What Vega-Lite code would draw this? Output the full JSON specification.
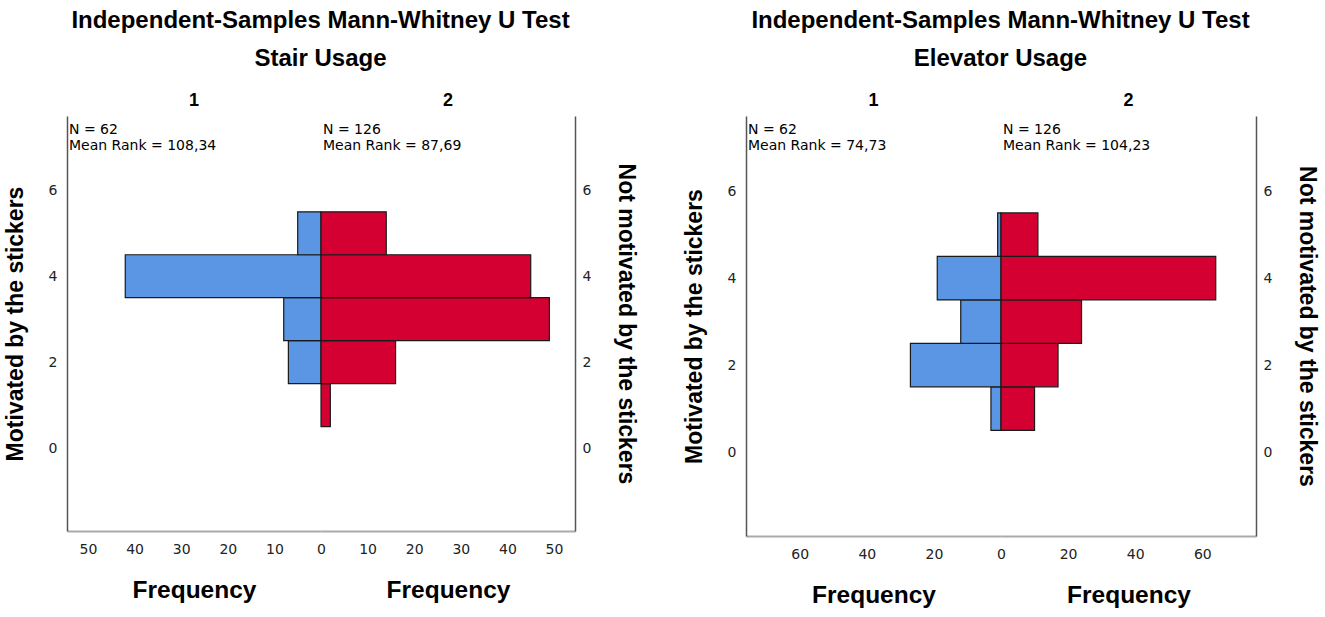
{
  "$schema": "https://vega.github.io/schema/vega-lite/v6.json",
  "padding": {"left": 4, "top": 9, "right": 5, "bottom": 5},
  "background": "white",
  "datasets": {
    "bars": [
      {"test": "Stair Usage", "group": "1", "lo": 1.5, "hi": 2.5, "count": 7},
      {"test": "Stair Usage", "group": "1", "lo": 2.5, "hi": 3.5, "count": 8},
      {"test": "Stair Usage", "group": "1", "lo": 3.5, "hi": 4.5, "count": 42},
      {"test": "Stair Usage", "group": "1", "lo": 4.5, "hi": 5.5, "count": 5},
      {"test": "Stair Usage", "group": "2", "lo": 0.5, "hi": 1.5, "count": 2},
      {"test": "Stair Usage", "group": "2", "lo": 1.5, "hi": 2.5, "count": 16},
      {"test": "Stair Usage", "group": "2", "lo": 2.5, "hi": 3.5, "count": 49},
      {"test": "Stair Usage", "group": "2", "lo": 3.5, "hi": 4.5, "count": 45},
      {"test": "Stair Usage", "group": "2", "lo": 4.5, "hi": 5.5, "count": 14},
      {"test": "Elevator Usage", "group": "1", "lo": 0.5, "hi": 1.5, "count": 3},
      {"test": "Elevator Usage", "group": "1", "lo": 1.5, "hi": 2.5, "count": 27},
      {"test": "Elevator Usage", "group": "1", "lo": 2.5, "hi": 3.5, "count": 12},
      {"test": "Elevator Usage", "group": "1", "lo": 3.5, "hi": 4.5, "count": 19},
      {"test": "Elevator Usage", "group": "1", "lo": 4.5, "hi": 5.5, "count": 1},
      {"test": "Elevator Usage", "group": "2", "lo": 0.5, "hi": 1.5, "count": 10},
      {"test": "Elevator Usage", "group": "2", "lo": 1.5, "hi": 2.5, "count": 17},
      {"test": "Elevator Usage", "group": "2", "lo": 2.5, "hi": 3.5, "count": 24},
      {"test": "Elevator Usage", "group": "2", "lo": 3.5, "hi": 4.5, "count": 64},
      {"test": "Elevator Usage", "group": "2", "lo": 4.5, "hi": 5.5, "count": 11}
    ],
    "notes": [
      {"test": "Stair Usage", "group": "1", "lines": ["N = 62", "Mean Rank = 108,34"]},
      {"test": "Stair Usage", "group": "2", "lines": ["N = 126", "Mean Rank = 87,69"]},
      {"test": "Elevator Usage", "group": "1", "lines": ["N = 62", "Mean Rank = 74,73"]},
      {"test": "Elevator Usage", "group": "2", "lines": ["N = 126", "Mean Rank = 104,23"]}
    ]
  },
  "spacing": 46,
  "hconcat": [
    {
      "title": {"text": ["Independent-Samples Mann-Whitney U Test", "Stair Usage"], "lineHeight": 38, "offset": 21},
      "spacing": 0,
      "bounds": "flush",
      "hconcat": [
        {
          "width": 254,
          "height": 415,
          "title": {"text": "1", "fontSize": 18, "offset": 6},
          "layer": [
            {
              "data": {"name": "bars"},
              "transform": [{"filter": "datum.test === 'Stair Usage' && datum.group === '1'"}],
              "mark": {"type": "rect", "color": "#5a96e3", "stroke": "#1a1a1a", "strokeWidth": 1.2},
              "encoding": {
                "x": {"field": "count", "type": "quantitative",
                  "scale": {"domain": [0, 54.5], "nice": false, "reverse": true},
                  "axis": {"values": [10, 20, 30, 40, 50], "title": "Frequency", "domainColor": "#aaaaaa", "domainWidth": 2}},
                "x2": {"datum": 0},
                "y": {"field": "lo", "type": "quantitative",
                  "scale": {"domain": [-1.93, 7.73], "nice": false, "zero": false},
                  "axis": {"values": [0, 2, 4, 6], "title": "Motivated by the stickers", "orient": "left"}},
                "y2": {"field": "hi"}
              }
            },
            {
              "data": {"name": "notes"},
              "transform": [{"filter": "datum.test === 'Stair Usage' && datum.group === '1'"}],
              "mark": {"type": "text", "align": "left", "baseline": "top", "dx": 2, "dy": 7, "fontSize": 14, "lineHeight": 16, "font": "DejaVu Sans"},
              "encoding": {"x": {"datum": 54.5}, "y": {"datum": 7.73}, "text": {"field": "lines"}}
            }
          ]
        },
        {
          "width": 254,
          "height": 415,
          "title": {"text": "2", "fontSize": 18, "offset": 6},
          "layer": [
            {
              "data": {"name": "bars"},
              "transform": [{"filter": "datum.test === 'Stair Usage' && datum.group === '2'"}],
              "mark": {"type": "rect", "color": "#d50032", "stroke": "#1a1a1a", "strokeWidth": 1.2},
              "encoding": {
                "x": {"field": "count", "type": "quantitative",
                  "scale": {"domain": [0, 54.5], "nice": false},
                  "axis": {"values": [0, 10, 20, 30, 40, 50], "title": "Frequency", "domainColor": "#aaaaaa", "domainWidth": 2}},
                "x2": {"datum": 0},
                "y": {"field": "lo", "type": "quantitative",
                  "scale": {"domain": [-1.93, 7.73], "nice": false, "zero": false},
                  "axis": {"values": [0, 2, 4, 6], "title": "Not motivated by the stickers", "orient": "right"}},
                "y2": {"field": "hi"}
              }
            },
            {
              "mark": {"type": "rule", "color": "black", "strokeWidth": 1.5},
              "encoding": {"x": {"datum": 0}}
            },
            {
              "data": {"name": "notes"},
              "transform": [{"filter": "datum.test === 'Stair Usage' && datum.group === '2'"}],
              "mark": {"type": "text", "align": "left", "baseline": "top", "dx": 2, "dy": 7, "fontSize": 14, "lineHeight": 16, "font": "DejaVu Sans"},
              "encoding": {"x": {"datum": 0}, "y": {"datum": 7.73}, "text": {"field": "lines"}}
            }
          ]
        }
      ]
    },
    {
      "title": {"text": ["Independent-Samples Mann-Whitney U Test", "Elevator Usage"], "lineHeight": 38, "offset": 21},
      "spacing": 0,
      "bounds": "flush",
      "hconcat": [
        {
          "width": 255,
          "height": 420,
          "title": {"text": "1", "fontSize": 18, "offset": 6},
          "layer": [
            {
              "data": {"name": "bars"},
              "transform": [{"filter": "datum.test === 'Elevator Usage' && datum.group === '1'"}],
              "mark": {"type": "rect", "color": "#5a96e3", "stroke": "#1a1a1a", "strokeWidth": 1.2},
              "encoding": {
                "x": {"field": "count", "type": "quantitative",
                  "scale": {"domain": [0, 76], "nice": false, "reverse": true},
                  "axis": {"values": [20, 40, 60], "title": "Frequency", "domainColor": "#aaaaaa", "domainWidth": 2}},
                "x2": {"datum": 0},
                "y": {"field": "lo", "type": "quantitative",
                  "scale": {"domain": [-1.93, 7.73], "nice": false, "zero": false},
                  "axis": {"values": [0, 2, 4, 6], "title": "Motivated by the stickers", "orient": "left"}},
                "y2": {"field": "hi"}
              }
            },
            {
              "data": {"name": "notes"},
              "transform": [{"filter": "datum.test === 'Elevator Usage' && datum.group === '1'"}],
              "mark": {"type": "text", "align": "left", "baseline": "top", "dx": 2, "dy": 7, "fontSize": 14, "lineHeight": 16, "font": "DejaVu Sans"},
              "encoding": {"x": {"datum": 76}, "y": {"datum": 7.73}, "text": {"field": "lines"}}
            }
          ]
        },
        {
          "width": 255,
          "height": 420,
          "title": {"text": "2", "fontSize": 18, "offset": 6},
          "layer": [
            {
              "data": {"name": "bars"},
              "transform": [{"filter": "datum.test === 'Elevator Usage' && datum.group === '2'"}],
              "mark": {"type": "rect", "color": "#d50032", "stroke": "#1a1a1a", "strokeWidth": 1.2},
              "encoding": {
                "x": {"field": "count", "type": "quantitative",
                  "scale": {"domain": [0, 76], "nice": false},
                  "axis": {"values": [0, 20, 40, 60], "title": "Frequency", "domainColor": "#aaaaaa", "domainWidth": 2}},
                "x2": {"datum": 0},
                "y": {"field": "lo", "type": "quantitative",
                  "scale": {"domain": [-1.93, 7.73], "nice": false, "zero": false},
                  "axis": {"values": [0, 2, 4, 6], "title": "Not motivated by the stickers", "orient": "right"}},
                "y2": {"field": "hi"}
              }
            },
            {
              "mark": {"type": "rule", "color": "black", "strokeWidth": 1.5},
              "encoding": {"x": {"datum": 0}}
            },
            {
              "data": {"name": "notes"},
              "transform": [{"filter": "datum.test === 'Elevator Usage' && datum.group === '2'"}],
              "mark": {"type": "text", "align": "left", "baseline": "top", "dx": 2, "dy": 7, "fontSize": 14, "lineHeight": 16, "font": "DejaVu Sans"},
              "encoding": {"x": {"datum": 0}, "y": {"datum": 7.73}, "text": {"field": "lines"}}
            }
          ]
        }
      ]
    }
  ],
  "config": {
    "view": {"stroke": null},
    "font": "Liberation Sans",
    "title": {"font": "Liberation Sans", "fontSize": 24, "fontWeight": "bold", "color": "black", "anchor": "middle"},
    "axis": {
      "grid": false,
      "ticks": false,
      "labelFont": "DejaVu Sans",
      "labelFontSize": 14,
      "labelColor": "#222222",
      "labelFlush": false,
      "titleFont": "Liberation Sans",
      "titleFontWeight": "bold",
      "titleColor": "black",
      "domainColor": "#555555",
      "domainWidth": 1.5
    },
    "axisX": {"labelPadding": 11, "titlePadding": 22, "titleFontSize": 24.5},
    "axisY": {"titleFontSize": 23},
    "axisLeft": {"labelPadding": 10, "titlePadding": 21},
    "axisRight": {"labelPadding": 7, "titlePadding": 23}
  }
}
